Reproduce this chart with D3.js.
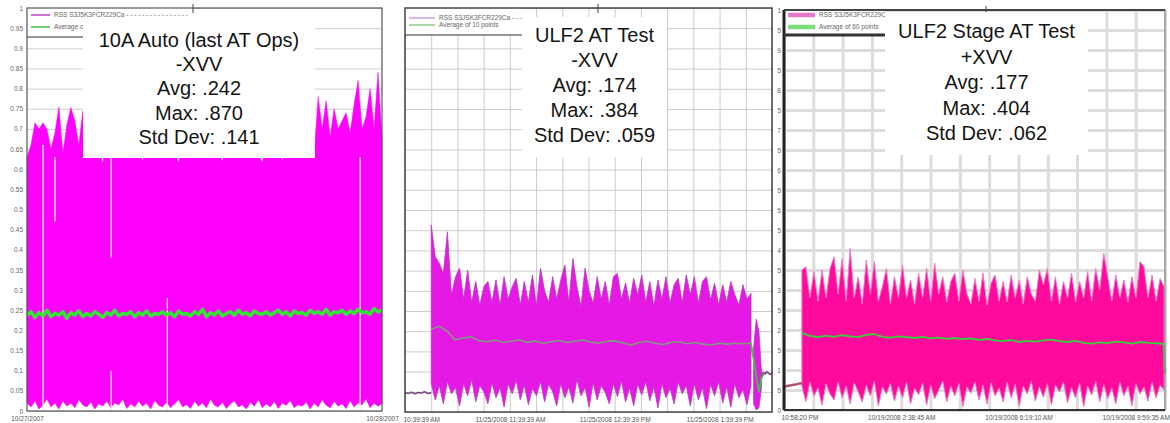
<!DOCTYPE html>
<html>
<head>
<meta charset="utf-8">
<script src="https://cdn.jsdelivr.net/npm/d3@7"></script>
<style>
body { margin:0; background:#fff; }
svg { display:block; font-family:"Liberation Sans", Arial, sans-serif; }
</style>
</head>
<body>
<svg width="1170" height="423"></svg>
<script>
// ---- panel 1 : 10A Auto ----
var p1Labels = ['10/27/2007', '10/28/2007'];
var p1Legend = ['RSS S3J5K3FCR229Ca - - - - - - - - - - - - - - - -', 'Average of 10 points'];
var p1Notes = ['10A Auto (last AT Ops)', '-XVV', 'Avg: .242', 'Max: .870', 'Std Dev: .141'];
var p1Hi = [0.63,0.66,0.715,0.70,0.715,0.70,0.65,0.69,0.755,0.64,0.71,0.753,0.72,0.66,0.745,0.65,
  0.66,0.64,0.65,0.615,0.67,0.64,0.66,0.65,0.63,0.67,
  0.64,0.66,0.65,0.62,0.66,0.64,0.67,0.65,0.63,0.66,
  0.64,0.65,0.615,0.67,0.64,0.66,0.65,0.64,0.67,0.63,
  0.66,0.65,0.64,0.62,0.66,0.65,0.67,0.64,0.66,0.63,
  0.65,0.66,0.64,0.615,0.67,0.65,0.64,0.66,0.62,0.65,
  0.67,0.64,0.66,0.65,0.63,0.66,0.64,
  0.78,0.70,0.77,0.68,0.75,0.70,0.72,0.74,0.69,0.76,0.82,0.70,0.73,0.80,0.70,0.84,0.68];
var p1Lo = [0.02,0.01,0.025,0.005,0.015,0.03,0.01,0.02,0.005,0.025,
  0.012,0.02,0.008,0.028,0.015,0.01,0.022,0.005,0.018,0.012,
  0.025,0.008,0.02,0.015,0.03,0.006,0.018,0.01,0.024,0.012,
  0.02,0.005,0.026,0.014,0.01,0.022,0.008,0.018,0.028,0.01,
  0.016,0.006,0.024,0.012,0.02,0.008,0.03,0.014,0.01,0.022,
  0.006,0.018,0.025,0.01,0.015,0.005,0.022,0.012,0.028,0.008,
  0.018,0.01,0.024,0.006,0.02,0.014,0.026,0.008,0.016,0.012,
  0.022,0.005,0.02,0.01,0.028,0.014,0.008,0.024,0.012,0.018,
  0.006,0.026,0.01,0.02,0.015,0.03,0.008,0.02,0.012,0.018];
var p1Avg = [0.238,0.246,0.232,0.244,0.236,0.25,0.234,0.242,0.238,0.246,
  0.23,0.244,0.238,0.248,0.234,0.242,0.236,0.246,0.24,0.232,
  0.244,0.238,0.25,0.236,0.242,0.24,0.246,0.234,0.244,0.238,
  0.248,0.236,0.242,0.24,0.246,0.238,0.244,0.234,0.248,0.24,
  0.242,0.236,0.246,0.24,0.252,0.234,0.244,0.238,0.248,0.236,
  0.242,0.246,0.238,0.25,0.24,0.244,0.236,0.248,0.242,0.24,
  0.246,0.238,0.244,0.25,0.24,0.246,0.236,0.248,0.242,0.244,
  0.238,0.25,0.242,0.246,0.24,0.252,0.238,0.246,0.244,0.25,
  0.24,0.248,0.242,0.252,0.244,0.246,0.24,0.254,0.246,0.25];
// data dropouts (hours, value from, value to)
var p1GapTime = [1.08, 1.89, 5.69, 5.69, 9.49, 22.52];
var p1GapFrom = [0, 0.47, 0.38, 0, 0, 0];
var p1GapTo = [0.66, 0.63, 0.63, 0.1, 0.28, 0.63];

// ---- panel 2 : ULF2 AT Test ----
// first label is cut off by the neighbouring screenshot
var p2Labels = ['10:39:39 AM', '11/25/2008 11:39:39 AM', '11/25/2008 12:39:39 PM', '11/25/2008 1:39:39 PM'];
var p2Legend = ['RSS S3JSK3FCR229Ca - - - - - - - - - - - - -', 'Average of 10 points'];
var p2Notes = ['ULF2 AT Test', '-XVV', 'Avg: .174', 'Max: .384', 'Std Dev: .059'];
var p2Pre = [0.048,0.046,0.049,0.045,0.048,0.047,0.05,0.046,0.048];
var p2Hi = [0.463,0.384,0.368,0.343,0.446,0.29,0.335,0.356,0.28,0.351,
  0.272,0.323,0.265,0.31,0.323,0.272,0.327,0.265,0.335,0.28,
  0.31,0.331,0.265,0.323,0.272,0.339,0.262,0.356,0.3,0.272,
  0.335,0.28,0.327,0.364,0.272,0.38,0.31,0.262,0.356,0.3,
  0.27,0.335,0.28,0.323,0.265,0.335,0.343,0.28,0.319,0.27,
  0.331,0.29,0.339,0.272,0.323,0.262,0.327,0.28,0.335,0.27,
  0.315,0.331,0.272,0.339,0.29,0.335,0.27,0.323,0.335,0.278,
  0.319,0.265,0.315,0.272,0.323,0.29,0.265,0.315,0.28,0.294];
var p2Lo = [0.07,0.03,0.065,0.02,0.075,0.045,0.06,0.015,0.07,0.04,
  0.08,0.025,0.065,0.05,0.02,0.072,0.035,0.06,0.012,0.07,
  0.045,0.078,0.03,0.066,0.018,0.058,0.04,0.075,0.025,0.068,
  0.05,0.015,0.07,0.035,0.062,0.022,0.08,0.04,0.06,0.012,
  0.072,0.03,0.065,0.048,0.02,0.07,0.038,0.076,0.025,0.06,
  0.015,0.068,0.042,0.075,0.028,0.062,0.01,0.07,0.035,0.058,
  0.02,0.074,0.045,0.065,0.015,0.07,0.03,0.06,0.008,0.068,
  0.04,0.075,0.022,0.062,0.012,0.07,0.035,0.055,0.018,0.065];
var p2Avg = [0.205,0.212,0.2,0.178,0.183,0.186,0.176,0.174,0.178,0.172,
  0.175,0.179,0.172,0.176,0.17,0.174,0.177,0.172,0.175,0.178,
  0.173,0.17,0.175,0.176,0.171,0.166,0.172,0.175,0.17,0.167,
  0.172,0.174,0.169,0.172,0.168,0.166,0.17,0.168,0.17,0.169,0.17];
var p2TailHi = [0.16, 0.23, 0.2, 0.1];
var p2TailLo = [0.02, 0.005, 0.01, 0.06];
var p2AvgTail = [0.17, 0.13, 0.09, 0.05, 0.085, 0.095];
var p2Post = [0.09, 0.098, 0.094, 0.1, 0.096, 0.093, 0.097];

// ---- panel 3 : ULF2 Stage AT Test ----
var p3Labels = ['10:58:20 PM', '10/19/2008 2:38:45 AM', '10/19/2008 6:19:10 AM', '10/19/2008 9:59:35 AM'];
var p3Legend = ['RSS S3J5K3FCR229Ca', 'Average of 60 points'];
var p3Notes = ['ULF2 Stage AT Test', '+XVV', 'Avg: .177', 'Max: .404', 'Std Dev: .062'];
var p3Pre = [0.058, 0.06, 0.061, 0.063, 0.064, 0.066, 0.067];
var p3Hi = [0.35,0.358,0.28,0.346,0.272,0.35,0.28,0.354,0.383,0.29,
  0.379,0.272,0.404,0.28,0.333,0.265,0.375,0.29,0.371,0.272,
  0.308,0.354,0.265,0.333,0.28,0.3625,0.28,0.325,0.265,0.342,
  0.28,0.354,0.272,0.367,0.29,0.333,0.27,0.321,0.342,0.272,
  0.35,0.29,0.265,0.329,0.272,0.342,0.262,0.317,0.3375,0.272,
  0.321,0.27,0.3375,0.28,0.325,0.265,0.333,0.29,0.272,0.35,
  0.3125,0.354,0.272,0.333,0.265,0.321,0.28,0.342,0.27,0.321,
  0.28,0.346,0.272,0.354,0.3,0.392,0.333,0.272,0.3375,0.28,
  0.325,0.27,0.333,0.28,0.371,0.358,0.28,0.3375,0.272,0.329,0.308];
var p3Lo = [0.06,0.02,0.07,0.035,0.055,0.012,0.065,0.04,0.025,0.07,
  0.03,0.06,0.015,0.068,0.045,0.02,0.062,0.035,0.072,0.01,
  0.058,0.04,0.066,0.022,0.06,0.03,0.07,0.015,0.055,0.038,
  0.068,0.012,0.062,0.028,0.05,0.072,0.02,0.06,0.035,0.066,
  0.008,0.058,0.042,0.07,0.025,0.062,0.015,0.068,0.035,0.055,
  0.02,0.07,0.03,0.064,0.01,0.06,0.04,0.072,0.022,0.058,
  0.032,0.066,0.012,0.062,0.045,0.07,0.018,0.056,0.03,0.068,
  0.008,0.06,0.038,0.072,0.02,0.064,0.028,0.055,0.015,0.07,
  0.035,0.06,0.01,0.066,0.04,0.058,0.022,0.07,0.03,0.062,0.05];
var p3Avg = [0.193,0.185,0.182,0.186,0.183,0.187,0.184,0.182,0.188,0.19,
  0.183,0.181,0.184,0.182,0.18,0.183,0.179,0.181,0.178,0.18,
  0.177,0.179,0.175,0.178,0.174,0.172,0.175,0.17,0.173,0.171,
  0.174,0.176,0.172,0.17,0.173,0.168,0.166,0.169,0.167,0.171,
  0.169,0.166,0.17,0.168,0.167,0.165];
var p3AvgEnd = [0.165, 0.09];

var yTicks = d3.range(0, 21).map(function(i){ return i * 0.05; });

var svg = d3.select('svg');
var defs = svg.append('defs');

function spread(values, t0, t1) {
  var n = values.length;
  return values.map(function(v, i){ return { t: t0 + (t1 - t0) * i / (n - 1), v: v }; });
}

function band(hi, lo, t0, t1) {
  var n = hi.length;
  return hi.map(function(h, i){ return { t: t0 + (t1 - t0) * i / (n - 1), hi: h, lo: lo[i] }; });
}

function panel(c) {
  defs.append('clipPath').attr('id', c.id)
    .append('rect').attr('x', c.clip[0]).attr('y', 0)
    .attr('width', c.clip[1] - c.clip[0]).attr('height', 423);

  var g = svg.append('g').attr('clip-path', `url(#${c.id})`);
  var x = d3.scaleLinear().domain(c.xDomain).range([c.left, c.right]);
  var y = d3.scaleLinear().domain([0, 1]).range([c.bottom, c.top]);

  // grid
  g.append('g')
    .attr('transform', `translate(${c.left},0)`)
    .call(d3.axisLeft(y).tickValues(yTicks).tickSize(-(c.right - c.left)).tickFormat(''))
    .call(s => s.select('.domain').remove())
    .selectAll('line').attr('stroke', c.gridColor).attr('stroke-width', c.gridWidth);
  if (c.vGrid) {
    g.append('g')
      .attr('transform', `translate(0,${c.bottom})`)
      .call(d3.axisBottom(x).ticks(c.xDomain[1]).tickSize(-(c.bottom - c.top)).tickFormat(''))
      .call(s => s.select('.domain').remove())
      .selectAll('line').attr('stroke', c.gridColor).attr('stroke-width', c.gridWidth);
  }

  var area = d3.area().x(d => x(d.t)).y0(d => y(d.lo)).y1(d => y(d.hi));
  var line = d3.line().x(d => x(d.t)).y(d => y(d.v));

  c.bands.forEach(function(b){
    g.append('path').datum(b).attr('d', area)
      .attr('fill', c.fill).attr('stroke', c.edge).attr('stroke-width', c.edgeWidth);
  });
  (c.gaps || []).forEach(function(gp){
    g.append('line').attr('x1', x(gp.t)).attr('x2', x(gp.t))
      .attr('y1', y(gp.from)).attr('y2', y(gp.to))
      .attr('stroke', '#f6e6f6').attr('stroke-width', 1.3);
  });
  (c.lines || []).forEach(function(l){
    g.append('path').datum(l.data).attr('d', line)
      .attr('fill', 'none').attr('stroke', l.color).attr('stroke-width', l.width)
      .attr('stroke-linejoin', 'round');
  });

  // legend background
  g.append('rect').attr('x', c.left).attr('y', c.top)
    .attr('width', c.legendRight - c.left).attr('height', c.legendBottom - c.top)
    .attr('fill', '#fff');

  // frame
  g.append('rect').attr('x', c.left).attr('y', c.top)
    .attr('width', c.right - c.left).attr('height', c.bottom - c.top)
    .attr('fill', 'none').attr('stroke', c.frame).attr('stroke-width', c.frameWidth);
  if (c.leftAxisWidth) {
    g.append('line').attr('x1', c.left).attr('x2', c.left).attr('y1', c.top).attr('y2', c.bottom)
      .attr('stroke', '#222').attr('stroke-width', c.leftAxisWidth);
    g.append('line').attr('x1', c.left).attr('x2', c.right).attr('y1', c.bottom).attr('y2', c.bottom)
      .attr('stroke', '#333').attr('stroke-width', 2);
    g.append('line').attr('x1', c.left).attr('x2', c.right).attr('y1', c.top).attr('y2', c.top)
      .attr('stroke', '#444').attr('stroke-width', 2);
  }

  // axes labels
  if (c.yLabels) {
    g.append('g').attr('transform', `translate(${c.left},0)`)
      .call(d3.axisLeft(y).tickValues(yTicks).tickSize(0).tickPadding(c.yPad)
        .tickFormat(d => +d.toFixed(2)))
      .call(s => s.select('.domain').remove())
      .selectAll('text').attr('font-size', 6.5).attr('fill', '#666');
  }
  var xa = g.append('g').attr('transform', `translate(0,${c.bottom})`)
    .call(d3.axisBottom(x).tickValues(c.xTicks).tickSize(0).tickPadding(5)
      .tickFormat((d, i) => c.xLabels[i]))
    .call(s => s.select('.domain').remove());
  xa.selectAll('text').attr('font-size', 6.5).attr('fill', '#555');
  if (c.firstLabelStart) {
    xa.select('.tick text').attr('text-anchor', 'start').attr('x', c.firstLabelStart);
  }

  // legend
  var lg = g.append('g');
  c.legend.forEach(function(txt, i){
    var ly = c.legendY[i];
    lg.append('line').attr('x1', c.left + 4).attr('x2', c.legendLineEnd)
      .attr('y1', ly).attr('y2', ly)
      .attr('stroke', c.legendColors[i]).attr('stroke-width', c.legendLineWidth);
    lg.append('text').attr('x', c.legendLineEnd + 4).attr('y', ly + 2.2)
      .attr('font-size', 6.5).attr('fill', '#666').text(txt);
  });
  lg.append('line').attr('x1', c.left).attr('x2', c.legendRight)
    .attr('y1', c.legendBottom).attr('y2', c.legendBottom)
    .attr('stroke', '#333').attr('stroke-width', c.legendBorder);
  lg.append('line').attr('x1', c.legendTick).attr('x2', c.legendTick)
    .attr('y1', c.top - 4).attr('y2', c.top + 5)
    .attr('stroke', '#444').attr('stroke-width', 1);

  // stats box
  g.append('rect').attr('x', c.box[0]).attr('y', c.box[1])
    .attr('width', c.box[2] - c.box[0]).attr('height', c.box[3] - c.box[1])
    .attr('fill', '#fff');
  g.selectAll('.note').data(c.notes).enter().append('text')
    .attr('class', 'note')
    .attr('x', (c.box[0] + c.box[2]) / 2)
    .attr('y', (d, i) => c.noteY0 + i * c.noteStep)
    .attr('text-anchor', 'middle').attr('font-size', 20).attr('fill', '#151515')
    .text(d => d);
}

panel({
  id: 'c1', clip: [0, 399], left: 27, right: 382, top: 8, bottom: 411,
  xDomain: [0, 24], xTicks: [0, 24], xLabels: p1Labels, yLabels: true, yPad: 4,
  gridColor: '#cfcfcf', gridWidth: 1, vGrid: false,
  fill: '#ff00ff', edge: '#ff00ff', edgeWidth: 0.5,
  bands: [band(p1Hi, p1Lo, 0, 24)],
  gaps: p1GapTime.map((t, i) => ({ t: t, from: p1GapFrom[i], to: p1GapTo[i] })),
  lines: [{ data: spread(p1Avg, 0, 24), color: '#33e633', width: 3.5 }],
  frame: '#555', frameWidth: 1.2,
  legend: p1Legend, legendY: [15, 27], legendColors: ['#c040c0', '#40c040'],
  legendLineEnd: 50, legendLineWidth: 1.5, legendRight: 193, legendBottom: 37, legendBorder: 1.2, legendTick: 193,
  box: [83, 18, 315, 158], notes: p1Notes, noteY0: 47, noteStep: 24.2
});

panel({
  id: 'c2', clip: [400, 775], left: 405, right: 772, top: 8, bottom: 412,
  xDomain: [0, 14], xTicks: [0, 4, 8, 12], xLabels: p2Labels, yLabels: false, firstLabelStart: -2,
  gridColor: '#cccccc', gridWidth: 1, vGrid: true,
  fill: '#e618e6', edge: '#b83cb8', edgeWidth: 0.8,
  bands: [band(p2Hi, p2Lo, 1.0, 13.2), band(p2TailHi, p2TailLo, 13.3, 13.6)],
  lines: [
    { data: spread(p2Pre, 0, 1.0), color: '#7d4a7d', width: 1.6 },
    { data: spread(p2Post, 13.6, 14), color: '#8a508a', width: 1.8 },
    { data: spread(p2Avg, 1.0, 13.2), color: '#7f9a7f', width: 1.6 },
    { data: spread(p2AvgTail, 13.2, 13.7), color: '#3cc43c', width: 1.8 }
  ],
  frame: '#444', frameWidth: 1.5,
  legend: p2Legend, legendY: [18, 25], legendColors: ['#b070c0', '#50b050'],
  legendLineEnd: 435, legendLineWidth: 1, legendRight: 523, legendBottom: 35, legendBorder: 1.2, legendTick: 598,
  box: [522, 17, 667, 157], notes: p2Notes, noteY0: 42, noteStep: 25
});

panel({
  id: 'c3', clip: [777, 1170], left: 784, right: 1165, top: 10, bottom: 410,
  xDomain: [0, 13], xTicks: [0, 4, 8, 12], xLabels: p3Labels, yLabels: true, yPad: 3, firstLabelStart: -3,
  gridColor: '#dcdcdc', gridWidth: 3, vGrid: true,
  fill: '#ff0a9c', edge: '#ee7cc8', edgeWidth: 1,
  bands: [band(p3Hi, p3Lo, 0.61, 12.97)],
  lines: [
    { data: spread(p3Pre, 0, 0.61), color: '#b0506e', width: 2.5 },
    { data: spread(p3Avg, 0.61, 12.97), color: '#38d038', width: 1.8 },
    { data: spread(p3AvgEnd, 12.95, 13), color: '#38d038', width: 1.8 }
  ],
  frame: '#888', frameWidth: 1.2, leftAxisWidth: 3,
  legend: p3Legend, legendY: [15, 27], legendColors: ['#e878c8', '#7ae07a'],
  legendLineEnd: 815, legendLineWidth: 4.5, legendRight: 885, legendBottom: 35, legendBorder: 3, legendTick: 986,
  box: [885, 12, 1088, 155], notes: p3Notes, noteY0: 38, noteStep: 25.5
});
</script>
</body>
</html>
